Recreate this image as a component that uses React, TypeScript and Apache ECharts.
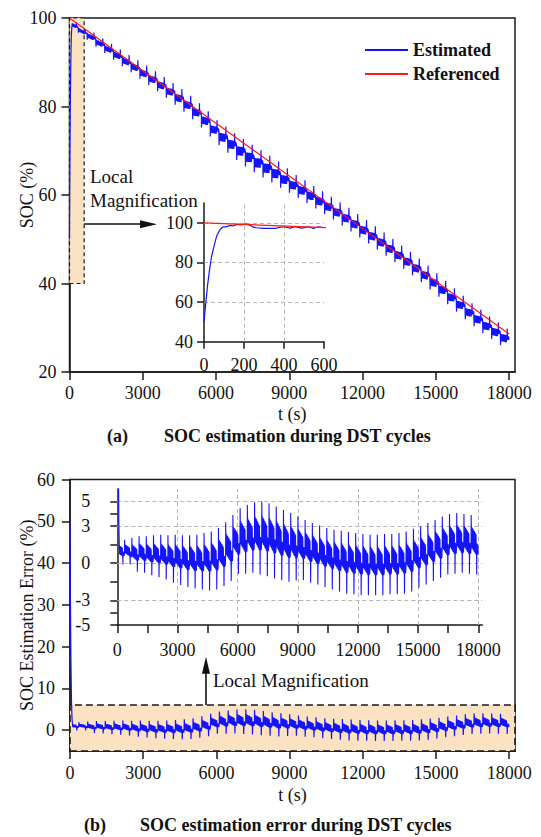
import React, { useEffect, useRef } from 'react';
import * as echarts from 'echarts';

const FONT = 'Liberation Serif, Times New Roman, serif';

// Reference SOC (%) read every 3000 s
const REF_T = [0, 3000, 6000, 9000, 12000, 15000, 18000];
const REF_SOC = [100, 88.1, 76.2, 64.3, 52.4, 40.5, 28.6];

// Estimated SOC over the first 600 s (inset of panel a)
const INSET_T = [0, 8, 18, 30, 38, 52, 63, 80, 97, 113, 130, 147, 163, 188, 205, 230, 247, 263, 297, 355, 392, 405, 430, 455, 488, 522, 547, 572, 597];
const INSET_EST = [50.1, 58.6, 68.7, 78, 83, 89, 93.2, 96.6, 98, 98, 98.7, 98.4, 99.2, 98.9, 99.5, 98.8, 97.8, 97.5, 97.2, 97.2, 98, 97.9, 97.3, 98, 97.3, 98, 97.2, 98, 97.6];

const CYCLE_LEN = 360;
const ERR_PEAK = [1.9, 1.9, 2.04, 2.17, 2.17, 2.25, 2.3, 2.25, 2.3, 2.25, 2.25, 2.3, 2.44, 2.57, 2.84, 3.32, 3.9, 4.45, 4.7, 4.93, 5.0, 4.85, 4.58, 4.3, 4.05, 3.78, 3.5, 3.24, 3.05, 2.84, 2.7, 2.63, 2.52, 2.44, 2.36, 2.3, 2.3, 2.36, 2.36, 2.44, 2.57, 2.79, 2.98, 3.24, 3.5, 3.78, 3.97, 4.05, 3.97, 3.9];
const ERR_TROUGH = [-0.1, -0.1, -0.7, -0.78, -0.97, -1.13, -1.31, -1.58, -1.77, -1.93, -2.04, -2.12, -2.2, -2.12, -1.85, -1.45, -0.86, -0.86, -0.78, -0.91, -1.05, -1.23, -1.37, -1.5, -1.4, -1.35, -1.58, -1.72, -1.93, -2.12, -2.3, -2.47, -2.52, -2.57, -2.6, -2.6, -2.6, -2.52, -2.52, -2.47, -2.3, -1.98, -1.72, -1.45, -1.18, -0.91, -0.86, -0.78, -0.86, -0.91];
// shape of one DST cycle: time offset (s) and level between trough (0) and peak (1)
const CYCLE_OFFSET = [0, 5, 12, 22, 32, 44, 56, 68, 80, 92, 104, 116, 128, 140, 152, 164, 176, 188, 200, 212, 224, 236, 248, 260, 272, 280, 288, 300, 314, 328, 342, 354];
const CYCLE_LEVEL = [0.42, 1.0, 0.76, 0.46, 0.8, 0.45, 0.78, 0.44, 0.77, 0.42, 0.76, 0.41, 0.74, 0.4, 0.73, 0.38, 0.72, 0.37, 0.7, 0.36, 0.69, 0.34, 0.67, 0.33, 0.5, 0.0, 0.34, 0.52, 0.33, 0.5, 0.34, 0.46];

// ticks
const T_TICKS = [0, 3000, 6000, 9000, 12000, 15000, 18000];
const T_MINOR_TICKS = [0, 1500, 3000, 4500, 6000, 7500, 9000, 10500, 12000, 13500, 15000, 16500, 18000];
const SOC_TICKS = [20, 40, 60, 80, 100];
const INSET_A_T_TICKS = [0, 200, 400, 600];
const INSET_A_SOC_TICKS = [40, 60, 80, 100];
const ERR_TICKS = [0, 10, 20, 30, 40, 50, 60];
const INSET_B_ERR_TICKS = [-5, -4, -3, -1.5, 0, 1.5, 3, 4, 5];
const INSET_B_ERR_LABELS = [-5, -3, 0, 3, 5];

const BLUE = '#1414ff';
const RED = '#ff1a1a';
const INK = '#1a1a1a';

function refAt(t: number): number {
  for (let i = 1; i < REF_T.length; i++) {
    if (t <= REF_T[i]) {
      const f = (t - REF_T[i - 1]) / (REF_T[i] - REF_T[i - 1]);
      return REF_SOC[i - 1] + f * (REF_SOC[i] - REF_SOC[i - 1]);
    }
  }
  return REF_SOC[REF_SOC.length - 1];
}

function buildError(): number[][] {
  const pts: number[][] = [];
  const tEnd = 100;
  INSET_T.forEach((t, i) => {
    if (t < tEnd) pts.push([t, refAt(t) - INSET_EST[i]]);
  });
  ERR_PEAK.forEach((pk, k) => {
    const tr = ERR_TROUGH[k];
    CYCLE_OFFSET.forEach((off, j) => {
      const t = k * CYCLE_LEN + off;
      if (t < tEnd) return;
      pts.push([t, tr + CYCLE_LEVEL[j] * (pk - tr)]);
    });
  });
  return pts;
}

const labelStyle = { fontSize: 18, fontFamily: FONT, color: '#111', formatter: (v: number) => String(v) };

function axis(gridIndex: number, min: number, max: number, ticks: number[], labels: number[], tickLen: number, margin: number, extra: any = {}) {
  return {
    type: 'value',
    gridIndex,
    min,
    max,
    nameMoveOverlap: false,
    axisLine: { show: true, onZero: false, lineStyle: { color: INK, width: 1.5 } },
    axisTick: { show: true, inside: false, length: tickLen, customValues: ticks, lineStyle: { color: INK, width: 1.5 } },
    axisLabel: { ...labelStyle, margin, customValues: labels },
    splitLine: { show: false },
    ...extra,
  };
}

const nameStyle = { fontSize: 18, fontFamily: FONT, color: '#111' };
const gridDash = { type: [4, 3], color: '#b4b4b4', width: 1 };

export default function App() {
  const ref = useRef<HTMLDivElement>(null);
  useEffect(() => {
    if (!ref.current) return;
    const chart = echarts.init(ref.current, undefined, { renderer: 'svg' });
    const err = buildError();
    const est = err.map(([t, e]) => [t, refAt(t) - e]);
    const refPts = REF_T.map((t, i) => [t, REF_SOC[i]]);
    const insetEst = INSET_T.map((t, i) => [t, INSET_EST[i]]);

    const option: any = {
      animation: false,
      backgroundColor: '#ffffff',
      textStyle: { fontFamily: FONT },
      grid: [
        { left: 69.5, top: 18, width: 445.5, height: 354, show: true, borderColor: INK, borderWidth: 1.5, backgroundColor: 'transparent' },
        { left: 204, top: 203, width: 120, height: 138.7 },
        { left: 70, top: 479.5, width: 445, height: 271.5, show: true, borderColor: INK, borderWidth: 1.5, backgroundColor: 'transparent' },
        { left: 117.3, top: 489, width: 365, height: 136 },
      ],
      xAxis: [
        axis(0, 0, 18240, T_TICKS, T_TICKS, 8, 12, { name: 't (s)', nameLocation: 'middle', nameGap: 33, nameTextStyle: nameStyle }),
        axis(1, 0, 600, INSET_A_T_TICKS, INSET_A_T_TICKS, 7, 14),
        axis(2, 0, 18240, T_TICKS, T_TICKS, 8, 13, { name: 't (s)', nameLocation: 'middle', nameGap: 35, nameTextStyle: nameStyle }),
        axis(3, 0, 18200, T_MINOR_TICKS, T_TICKS, 8, 16),
      ],
      yAxis: [
        axis(0, 20, 100, SOC_TICKS, SOC_TICKS, 8, 13, { name: 'SOC (%)', nameLocation: 'middle', nameGap: 34, nameTextStyle: nameStyle }),
        axis(1, 40, 110, INSET_A_SOC_TICKS, INSET_A_SOC_TICKS, 7, 11),
        axis(2, -5, 60, ERR_TICKS, ERR_TICKS, 8, 15, { name: 'SOC Estimation Error (%)', nameLocation: 'middle', nameGap: 34, nameTextStyle: nameStyle }),
        axis(3, -5, 6, INSET_B_ERR_TICKS, INSET_B_ERR_LABELS, 7, 27, {}),
      ],
      legend: {
        data: [
          { name: 'Estimated', icon: 'rect', itemStyle: { color: BLUE } },
          { name: 'Referenced', icon: 'rect', itemStyle: { color: RED } },
        ],
        orient: 'vertical',
        left: 365,
        top: 41,
        padding: 0,
        itemWidth: 43,
        itemHeight: 2,
        itemGap: 6,
        selectedMode: false,
        textStyle: { fontSize: 18, fontWeight: 'bold', fontFamily: FONT, color: '#111', lineHeight: 18 },
      },
      graphic: [
        { type: 'text', left: 90, top: 167, style: { text: 'Local', font: `19px ${FONT}`, fill: '#111' } },
        { type: 'text', left: 90, top: 191, style: { text: 'Magnification', font: `19px ${FONT}`, fill: '#111' } },
        { type: 'text', left: 213, top: 671, style: { text: 'Local Magnification', font: `19px ${FONT}`, fill: '#111' } },
        { type: 'text', left: 107, top: 427, style: { text: '(a)', font: `bold 18px ${FONT}`, fill: '#111' } },
        { type: 'text', left: 164, top: 427, style: { text: 'SOC estimation during DST cycles', font: `bold 18px ${FONT}`, fill: '#111' } },
        { type: 'text', left: 84, top: 816, style: { text: '(b)', font: `bold 18px ${FONT}`, fill: '#111' } },
        { type: 'text', left: 140, top: 816, style: { text: 'SOC estimation error during DST cycles', font: `bold 18px ${FONT}`, fill: '#111' } },
      ],
      series: [
        {
          name: 'Estimated', type: 'line', xAxisIndex: 0, yAxisIndex: 0, data: est, symbol: 'none', color: BLUE,
          lineStyle: { width: 1.2, color: BLUE }, z: 3,
          markArea: {
            silent: true,
            itemStyle: { color: '#fbe2c2', borderColor: INK, borderWidth: 1.2, borderType: [4, 3] },
            data: [[{ coord: [0, 40] }, { coord: [600, 100] }]],
          },
        },
        { name: 'Referenced', type: 'line', xAxisIndex: 0, yAxisIndex: 0, data: refPts, symbol: 'none', color: RED, lineStyle: { width: 1.2, color: RED }, z: 4 },
        { name: 'insetEst', type: 'line', xAxisIndex: 1, yAxisIndex: 1, data: insetEst, symbol: 'none', color: BLUE, lineStyle: { width: 1.2, color: BLUE }, z: 3 },
        {
          name: 'insetRef', type: 'line', xAxisIndex: 1, yAxisIndex: 1, data: refPts, symbol: 'none', color: RED, lineStyle: { width: 1.2, color: RED }, z: 4,
          markLine: { silent: true, z: 1, symbol: ['none', 'none'], label: { show: false }, lineStyle: gridDash, data: [{ xAxis: 200 }, { xAxis: 400 }, { yAxis: 60 }, { yAxis: 80 }, { yAxis: 100 }] },
        },
        {
          name: 'errMain', type: 'line', xAxisIndex: 2, yAxisIndex: 2, data: err, symbol: 'none', color: BLUE, lineStyle: { width: 1.2, color: BLUE }, z: 3,
          markArea: {
            silent: true,
            itemStyle: { color: '#fbe2c2', borderColor: INK, borderWidth: 1.6, borderType: [7, 4] },
            data: [[{ coord: [0, -5] }, { coord: [18240, 6] }]],
          },
        },
        {
          name: 'errInset', type: 'line', xAxisIndex: 3, yAxisIndex: 3, data: err, symbol: 'none', color: BLUE, lineStyle: { width: 1.1, color: BLUE }, z: 3,
          markLine: {
            silent: true, z: 1, symbol: ['none', 'none'], label: { show: false }, lineStyle: gridDash,
            data: [{ xAxis: 3000 }, { xAxis: 6000 }, { xAxis: 9000 }, { xAxis: 12000 }, { xAxis: 15000 }, { xAxis: 18000 }, { yAxis: 5 }, { yAxis: 3 }, { yAxis: 0 }, { yAxis: -3 }],
          },
        },
        {
          name: 'arrowA', type: 'line', xAxisIndex: 0, yAxisIndex: 0, data: [[0, 20]], symbol: 'none', color: '#111', lineStyle: { width: 0 }, z: 6,
          markLine: {
            silent: true, z: 6, symbol: ['none', 'triangle'], label: { show: false }, lineStyle: { color: '#111', width: 1.6, type: 'solid' },
            data: [[{ coord: [600, 53.4] }, { coord: [3234, 53.4], symbolSize: [8, 17], itemStyle: { color: '#111' } }]],
          },
        },
        {
          name: 'arrowB', type: 'line', xAxisIndex: 2, yAxisIndex: 2, data: [[0, -5]], symbol: 'none', color: '#111', lineStyle: { width: 0 }, z: 6,
          markLine: {
            silent: true, z: 6, symbol: ['none', 'triangle'], label: { show: false }, lineStyle: { color: '#111', width: 1.6, type: 'solid' },
            data: [[{ coord: [5574, 6] }, { coord: [5574, 15.5], symbolSize: [8, 17], itemStyle: { color: '#111' } }]],
          },
        },
      ],
    };
    chart.setOption(option);
    return () => chart.dispose();
  }, []);
  return <div ref={ref} style={{ position: 'fixed', left: 0, top: 0, width: 541, height: 837, background: '#fff' }} />;
}
